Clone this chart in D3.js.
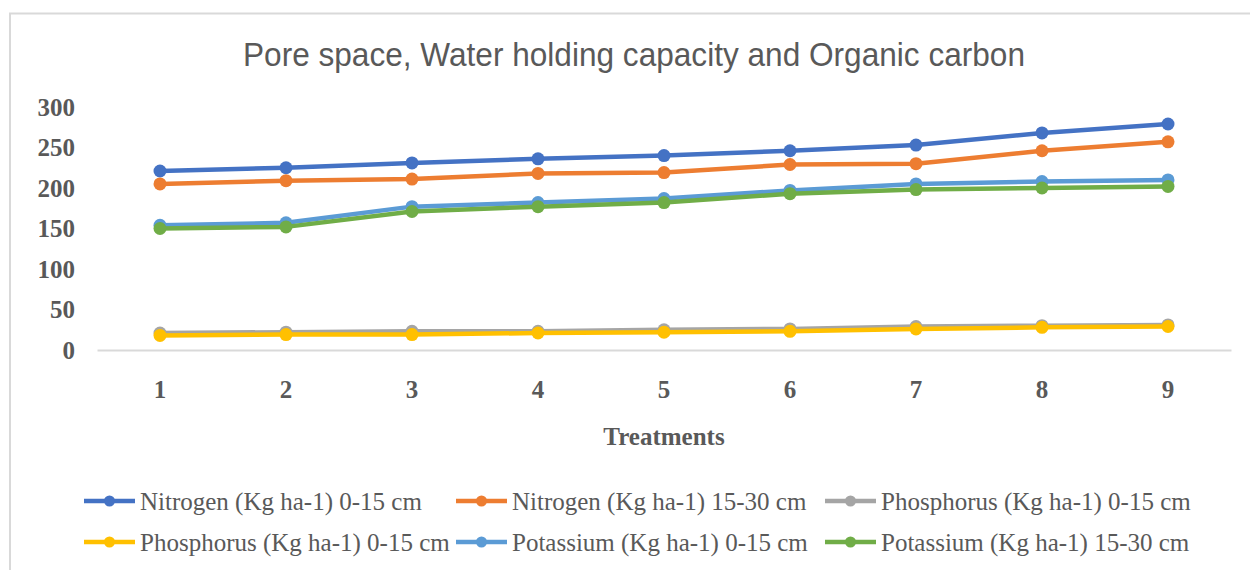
<!DOCTYPE html>
<html>
<head>
<meta charset="utf-8">
<script src="https://cdn.jsdelivr.net/npm/d3@7"></script>
<style>
  body { margin: 0; background: #fff; }
  svg { display: block; }
</style>
</head>
<body>
<div id="chart"></div>
<script>
// chart data
var treatments = ["1", "2", "3", "4", "5", "6", "7", "8", "9"];
var yTicks = [0, 50, 100, 150, 200, 250, 300];

var seriesNames = [
  "Nitrogen (Kg ha-1) 0-15 cm",
  "Nitrogen (Kg ha-1) 15-30 cm",
  "Phosphorus (Kg ha-1) 0-15 cm",
  "Phosphorus (Kg ha-1) 0-15 cm",
  "Potassium (Kg ha-1) 0-15 cm",
  "Potassium (Kg ha-1) 15-30 cm"
];
var seriesColors = ["#4472C4", "#ED7D31", "#A5A5A5", "#FFC000", "#5B9BD5", "#70AD47"];

var nitrogen0015 = [221, 225, 231, 236, 240, 246, 253, 268, 279];
var nitrogen1530 = [205, 209, 211, 218, 219, 229, 230, 246, 257];
var phosphorusA = [21, 22, 23, 23, 25, 26, 29, 30, 31];
var phosphorusB = [18, 19, 19, 21, 22, 23, 26, 28, 29];
var potassium0015 = [154, 157, 177, 182, 187, 197, 205, 208, 210];
var potassium1530 = [150, 152, 171, 177, 182, 193, 198, 200, 202];

var allSeries = [nitrogen0015, nitrogen1530, phosphorusA, phosphorusB, potassium0015, potassium1530];

function drawChart() {
  var width = 1250, height = 570;

  var svg = d3.select("#chart").append("svg")
      .attr("width", width)
      .attr("height", height);

  // frame
  svg.append("path")
      .attr("d", "M10,580V13.5H1260")
      .attr("fill", "none")
      .attr("stroke", "#D9D9D9")
      .attr("stroke-width", 2);

  svg.append("text")
      .attr("x", 634)
      .attr("y", 66)
      .attr("text-anchor", "middle")
      .attr("font-family", "'Liberation Sans Narrow', 'Arial Narrow', 'Liberation Sans', sans-serif")
      .attr("font-size", 33)
      .attr("fill", "#595959")
      .attr("textLength", 782)
      .attr("lengthAdjust", "spacingAndGlyphs")
      .text("Pore space, Water holding capacity and Organic carbon");

  var x = d3.scaleBand()
      .domain(treatments)
      .range([97, 1231]);

  var y = d3.scaleLinear()
      .domain([0, 300])
      .range([350, 107]);

  var serif = "'Liberation Serif', 'Times New Roman', serif";

  // y labels (no axis line)
  var yAxis = svg.append("g")
      .attr("transform", "translate(75,0)")
      .call(d3.axisLeft(y).tickValues(yTicks).tickSize(0).tickPadding(0));
  yAxis.select(".domain").remove();
  yAxis.selectAll("text")
      .attr("font-family", serif)
      .attr("font-size", 25)
      .attr("font-weight", "bold")
      .attr("fill", "#595959");

  // x axis
  var xAxis = svg.append("g")
      .attr("transform", "translate(0,350)")
      .call(d3.axisBottom(x).tickSize(0).tickPadding(30).tickSizeOuter(0));
  xAxis.select(".domain")
      .attr("stroke", "#D9D9D9")
      .attr("stroke-width", 2);
  xAxis.selectAll("text")
      .attr("font-family", serif)
      .attr("font-size", 25)
      .attr("font-weight", "bold")
      .attr("fill", "#595959");

  svg.append("text")
      .attr("x", 664)
      .attr("y", 445)
      .attr("text-anchor", "middle")
      .attr("font-family", serif)
      .attr("font-size", 25)
      .attr("font-weight", "bold")
      .attr("fill", "#595959")
      .text("Treatments");

  var cx = function(d, i) { return x(treatments[i]) + x.bandwidth() / 2; };

  var line = d3.line()
      .x(cx)
      .y(function(d) { return y(d); });

  var series = svg.selectAll(".series")
      .data(allSeries)
    .enter().append("g")
      .attr("class", "series");

  series.append("path")
      .attr("d", function(d) { return line(d); })
      .attr("fill", "none")
      .attr("stroke", function(d, i) { return seriesColors[i]; })
      .attr("stroke-width", 4.5)
      .attr("stroke-linejoin", "round");

  series.each(function(d, i) {
    d3.select(this).selectAll("circle")
        .data(d)
      .enter().append("circle")
        .attr("cx", cx)
        .attr("cy", function(v) { return y(v); })
        .attr("r", 6.5)
        .attr("fill", seriesColors[i]);
  });

  // legend, 3 per row
  var legendX = [84, 456, 825];
  var legendY = [501, 542];

  var legend = svg.selectAll(".legend")
      .data(seriesNames)
    .enter().append("g")
      .attr("class", "legend")
      .attr("transform", function(d, i) {
        return "translate(" + legendX[i % 3] + "," + legendY[Math.floor(i / 3)] + ")";
      });

  legend.append("line")
      .attr("x1", 0).attr("x2", 51)
      .attr("stroke", function(d, i) { return seriesColors[i]; })
      .attr("stroke-width", 4.5);

  legend.append("circle")
      .attr("cx", 25.5)
      .attr("r", 5.5)
      .attr("fill", function(d, i) { return seriesColors[i]; });

  legend.append("text")
      .attr("x", 56)
      .attr("y", 9)
      .attr("font-family", serif)
      .attr("font-size", 25)
      .attr("fill", "#595959")
      .text(function(d) { return d; });
}

drawChart();
</script>
</body>
</html>
